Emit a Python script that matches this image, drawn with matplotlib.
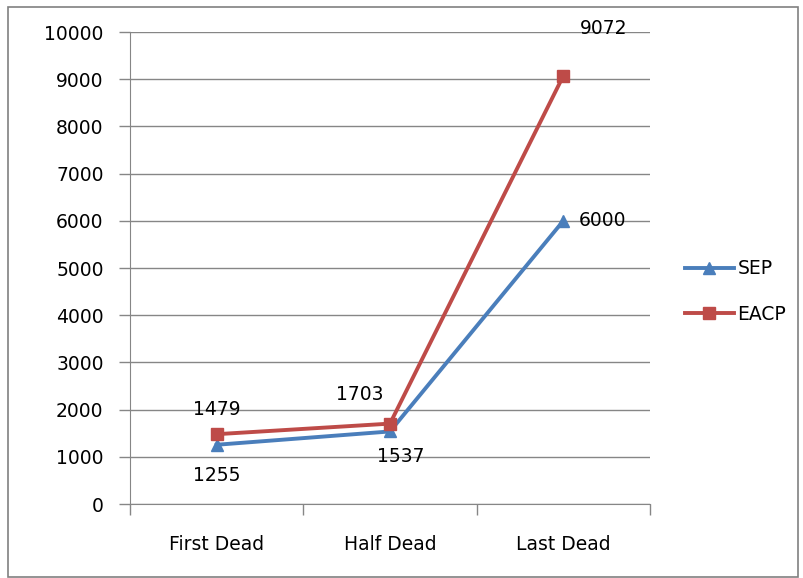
import matplotlib.pyplot as plt
from matplotlib.patches import Rectangle

categories = ["First Dead", "Half Dead", "Last Dead"]
sep = [1255, 1537, 6000]
eacp = [1479, 1703, 9072]
yticks = list(range(0, 10001, 1000))

# label offsets in points (dx, dy) per point
sep_off = [(0, -22), (8, -18), (28, 0)]
eacp_off = [(0, 18), (-22, 21), (29, 34)]

blue = "#4A7EBB"
red = "#BE4B48"
grid = "#868686"
fs = 13.5

fig = plt.figure(figsize=(8.04, 5.78), dpi=100)
fig.patches.append(Rectangle((8 / 804, 1 - 577 / 578), 790 / 804, 570 / 578,
                             transform=fig.transFigure, fill=False,
                             edgecolor="#808080", linewidth=1.2))
ax = fig.add_axes([130 / 804, 1 - 504 / 578, 520 / 804, 472 / 578])

x = [0, 1, 2]
ax.plot(x, sep, color=blue, lw=2.8, marker="^", ms=9, label="SEP")
ax.plot(x, eacp, color=red, lw=2.8, marker="s", ms=8, label="EACP")

for i in x:
    ax.annotate(str(sep[i]), (i, sep[i]), xytext=sep_off[i], textcoords="offset points",
                ha="center", va="center", fontsize=fs, color="black")
    ax.annotate(str(eacp[i]), (i, eacp[i]), xytext=eacp_off[i], textcoords="offset points",
                ha="center", va="center", fontsize=fs, color="black")

ax.set_xlim(-0.5, 2.5)
ax.set_ylim(0, 10000)
ax.set_yticks(yticks)
ax.set_yticklabels([str(v) for v in yticks], fontsize=fs)
ax.set_xticks([-0.5, 0.5, 1.5, 2.5], minor=False)
ax.set_xticklabels([])
ax.set_xticks(x, minor=True)
ax.set_xticklabels(categories, minor=True, fontsize=fs)
ax.tick_params(axis="x", which="minor", length=0, pad=22)
ax.tick_params(axis="x", which="major", length=8, color=grid, width=1)
ax.tick_params(axis="y", length=8, color=grid, width=1, pad=11)
ax.grid(axis="y", color=grid, lw=1)
ax.set_axisbelow(True)
for s in ["top", "right"]:
    ax.spines[s].set_visible(False)
for s in ["left", "bottom"]:
    ax.spines[s].set_color(grid)

ax.legend(loc="center left", bbox_to_anchor=(1.035, 0.45), frameon=False, fontsize=fs,
          handlelength=2.6, handletextpad=0.2, labelspacing=1.4)

fig.savefig("out.png", dpi=100)
